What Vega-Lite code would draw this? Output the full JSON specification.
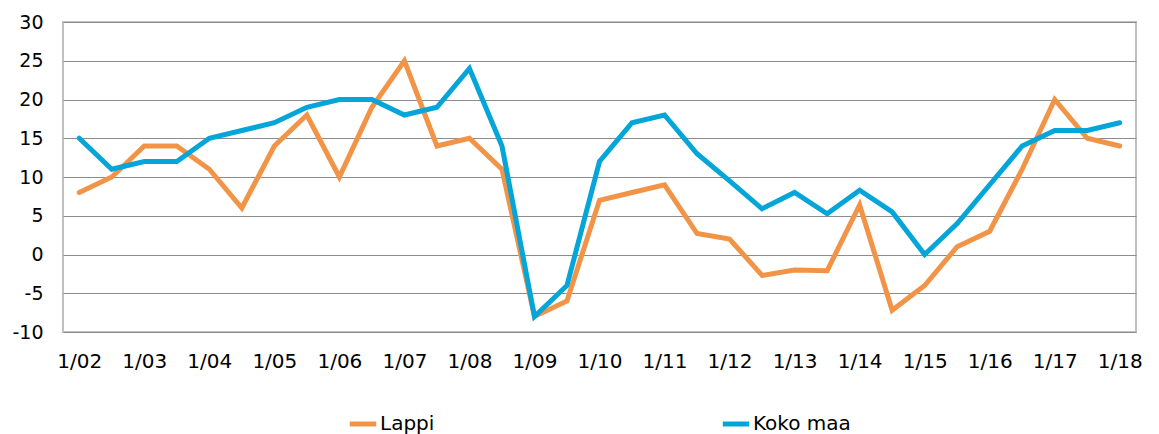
{
  "$schema": "https://vega.github.io/schema/vega-lite/v6.json",
  "width": 1073,
  "height": 310,
  "autosize": "none",
  "padding": {"left": 63, "top": 22, "right": 23, "bottom": 102},
  "background": "white",
  "datasets": {
    "d": [
      {"t":"1/02","s":"Lappi","v":8},{"t":"7/02","s":"Lappi","v":10},{"t":"1/03","s":"Lappi","v":14},{"t":"7/03","s":"Lappi","v":14},
      {"t":"1/04","s":"Lappi","v":11},{"t":"7/04","s":"Lappi","v":6},{"t":"1/05","s":"Lappi","v":14},{"t":"7/05","s":"Lappi","v":18},
      {"t":"1/06","s":"Lappi","v":10},{"t":"7/06","s":"Lappi","v":19},{"t":"1/07","s":"Lappi","v":25},{"t":"7/07","s":"Lappi","v":14},
      {"t":"1/08","s":"Lappi","v":15},{"t":"7/08","s":"Lappi","v":11},{"t":"1/09","s":"Lappi","v":-8},{"t":"7/09","s":"Lappi","v":-6},
      {"t":"1/10","s":"Lappi","v":7},{"t":"7/10","s":"Lappi","v":8},{"t":"1/11","s":"Lappi","v":9},{"t":"7/11","s":"Lappi","v":2.7},
      {"t":"1/12","s":"Lappi","v":2},{"t":"7/12","s":"Lappi","v":-2.7},{"t":"1/13","s":"Lappi","v":-2},{"t":"7/13","s":"Lappi","v":-2.1},
      {"t":"1/14","s":"Lappi","v":6.4},{"t":"7/14","s":"Lappi","v":-7.2},{"t":"1/15","s":"Lappi","v":-4},{"t":"7/15","s":"Lappi","v":1},
      {"t":"1/16","s":"Lappi","v":3},{"t":"7/16","s":"Lappi","v":11},{"t":"1/17","s":"Lappi","v":20},{"t":"7/17","s":"Lappi","v":15},
      {"t":"1/18","s":"Lappi","v":14},
      {"t":"1/02","s":"Koko maa","v":15},{"t":"7/02","s":"Koko maa","v":11},{"t":"1/03","s":"Koko maa","v":12},{"t":"7/03","s":"Koko maa","v":12},
      {"t":"1/04","s":"Koko maa","v":15},{"t":"7/04","s":"Koko maa","v":16},{"t":"1/05","s":"Koko maa","v":17},{"t":"7/05","s":"Koko maa","v":19},
      {"t":"1/06","s":"Koko maa","v":20},{"t":"7/06","s":"Koko maa","v":20},{"t":"1/07","s":"Koko maa","v":18},{"t":"7/07","s":"Koko maa","v":19},
      {"t":"1/08","s":"Koko maa","v":24},{"t":"7/08","s":"Koko maa","v":14},{"t":"1/09","s":"Koko maa","v":-8},{"t":"7/09","s":"Koko maa","v":-4},
      {"t":"1/10","s":"Koko maa","v":12},{"t":"7/10","s":"Koko maa","v":17},{"t":"1/11","s":"Koko maa","v":18},{"t":"7/11","s":"Koko maa","v":13},
      {"t":"1/12","s":"Koko maa","v":9.5},{"t":"7/12","s":"Koko maa","v":5.9},{"t":"1/13","s":"Koko maa","v":8},{"t":"7/13","s":"Koko maa","v":5.25},
      {"t":"1/14","s":"Koko maa","v":8.3},{"t":"7/14","s":"Koko maa","v":5.5},{"t":"1/15","s":"Koko maa","v":0},{"t":"7/15","s":"Koko maa","v":4},
      {"t":"1/16","s":"Koko maa","v":9},{"t":"7/16","s":"Koko maa","v":14},{"t":"1/17","s":"Koko maa","v":16},{"t":"7/17","s":"Koko maa","v":16},
      {"t":"1/18","s":"Koko maa","v":17}
    ]
  },
  "data": {"name": "d"},
  "mark": {"type": "line", "strokeWidth": 5, "strokeJoin": "miter", "strokeCap": "round"},
  "encoding": {
    "x": {
      "field": "t", "type": "nominal", "sort": null,
      "scale": {"type": "point", "padding": 0.5},
      "axis": {
        "title": null, "values": ["1/02","1/03","1/04","1/05","1/06","1/07","1/08","1/09","1/10","1/11","1/12","1/13","1/14","1/15","1/16","1/17","1/18"],
        "labelAngle": 0, "ticks": false, "domain": false, "grid": false,
        "labelPadding": 19, "labelFontSize": 20, "labelFont": "DejaVu Sans", "labelColor": "#000000"
      }
    },
    "y": {
      "field": "v", "type": "quantitative",
      "scale": {"domain": [-10, 30], "nice": false, "zero": false},
      "axis": {
        "title": null, "values": [-10,-5,0,5,10,15,20,25,30], "ticks": false, "domain": false,
        "labelExpr": "'' + datum.value",
        "grid": true, "gridColor": "#8c8c8c", "gridWidth": 1,
        "labelPadding": 20, "labelFontSize": 19, "labelFont": "DejaVu Sans", "labelColor": "#000000"
      }
    },
    "color": {
      "field": "s", "type": "nominal",
      "scale": {"domain": ["Lappi", "Koko maa"], "range": ["#f29447", "#04a5d8"]},
      "legend": {
        "title": null, "orient": "none", "direction": "horizontal",
        "legendX": 284, "legendY": 386,
        "symbolType": "stroke", "symbolStrokeWidth": 5, "symbolSize": 700,
        "labelFontSize": 20, "labelFont": "DejaVu Sans", "labelColor": "#000000",
        "labelOffset": 1, "columnPadding": 277
      }
    }
  },
  "config": {
    "view": {"stroke": "#c0c0c0", "strokeWidth": 2}
  }
}
